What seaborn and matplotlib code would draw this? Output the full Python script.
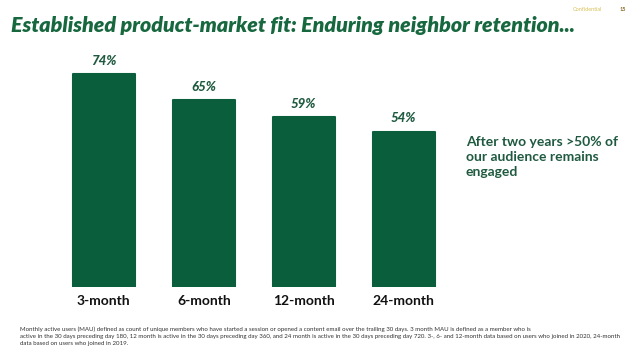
import matplotlib
matplotlib.use("Agg")
import matplotlib.pyplot as plt
import seaborn as sns
import pandas as pd

sns.set_theme(style="white")
plt.rcParams["font.family"] = ["Lato", "DejaVu Sans"]

# data
periods = ["3-month", "6-month", "12-month", "24-month"]
retention = [74, 65, 59, 54]

df = pd.DataFrame({"period": periods, "retention": retention})

green = "#0b5e3b"
title_green = "#17683f"

fig = plt.figure(figsize=(6.4, 3.61), dpi=100)
ax = fig.add_axes([0.084, 0.205, 0.625, 0.637])

sns.barplot(x="period", y="retention", data=df, color=green, width=0.62,
            saturation=1, ax=ax)
for p in ax.patches:
    p.set_edgecolor(green)
    p.set_linewidth(1.5)
    p.set_joinstyle("round")

ax.set_ylim(0, 80)
ax.set_xlim(-0.5, 3.5)
ax.set_xlabel("")
ax.set_ylabel("")
ax.set_yticks([])
sns.despine(ax=ax, left=True, bottom=True)
ax.tick_params(axis="x", length=0, pad=6)
for lbl in ax.get_xticklabels():
    lbl.set_fontsize(10)
    lbl.set_fontweight("bold")
    lbl.set_color("#111111")

for i, v in enumerate(retention):
    ax.text(i, v + 2.6, f"{v}%", ha="center", va="bottom", fontsize=9.5,
            fontweight="black", fontstyle="italic", color="#1f5a40")

# title
fig.text(0.017, 0.93, "Established product-market fit: Enduring neighbor retention...",
         fontsize=15.4, fontweight="heavy", fontstyle="italic", color=title_green,
         ha="left", va="center")
fig.text(0.895, 0.975, "Confidential", fontsize=4, color="#d8c25a", ha="left", va="center")
fig.text(0.968, 0.975, "15", fontsize=4, color="#8a6a2a", fontweight="bold",
         ha="left", va="center")

# callout
fig.text(0.728, 0.565, "After two years >50% of\nour audience remains\nengaged",
         fontsize=10, fontweight="bold", color="#1f5a40", ha="left", va="center",
         linespacing=1.3)

# footnote
note = ("Monthly active users (MAU) defined as count of unique members who have started a session or opened a content email over the trailing 30 days. 3 month MAU is defined as a member who is\n"
        "active in the 30 days preceding day 180, 12 month is active in the 30 days preceding day 360, and 24 month is active in the 30 days preceding day 720. 3-, 6- and 12-month data based on users who joined in 2020, 24-month\n"
        "data based on users who joined in 2019.")
fig.text(0.031, 0.068, note, fontsize=4.4, color="#333333", ha="left", va="center",
         linespacing=1.45)

fig.savefig("out.png", dpi=100)
